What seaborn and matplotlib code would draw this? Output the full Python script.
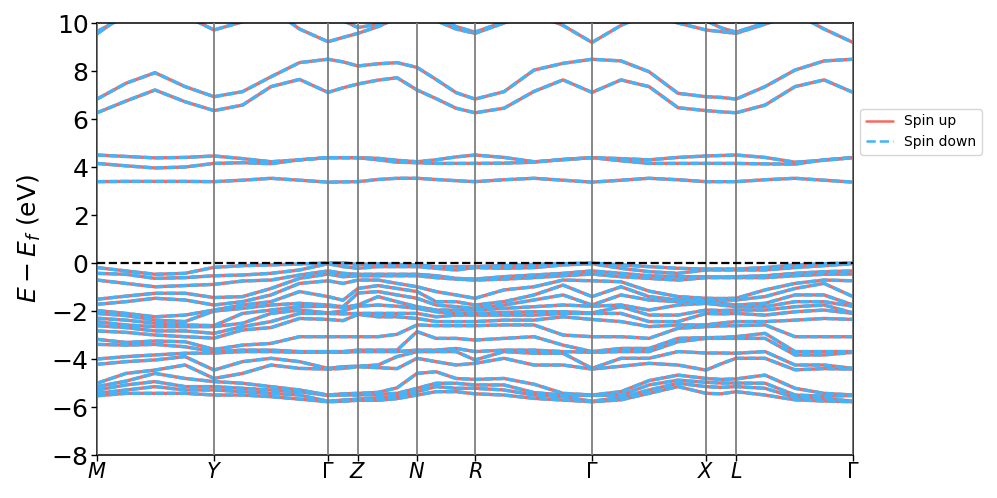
import numpy as np
import pandas as pd
import matplotlib
matplotlib.use('Agg')
import matplotlib.pyplot as plt
import seaborn as sns
from matplotlib.lines import Line2D

# k-path: high-symmetry points and sampled k-distances
kpath_labels = ['$M$', '$Y$', r'$\Gamma$', '$Z$', '$N$', '$R$', r'$\Gamma$', '$X$', '$L$', r'$\Gamma$']
kpath_ticks = [0.00, 1.17, 2.31, 2.61, 3.20, 3.78, 4.95, 6.09, 6.39, 7.56]
kpts = [0.00, 0.29, 0.58, 0.88, 1.17, 1.455, 1.74, 2.025, 2.31, 2.46, 2.61,
        2.81, 3.00, 3.20, 3.39, 3.59, 3.78, 4.07, 4.37, 4.66, 4.95,
        5.24, 5.52, 5.81, 6.09, 6.24, 6.39, 6.68, 6.98, 7.27, 7.56]

# conduction bands (eV)
c1 = [3.39, 3.40, 3.40, 3.40, 3.39, 3.45, 3.53, 3.45, 3.37, 3.38, 3.39, 3.48, 3.53, 3.53, 3.48, 3.43,
      3.39, 3.47, 3.53, 3.45, 3.37, 3.45, 3.53, 3.47, 3.39, 3.39, 3.39, 3.47, 3.53, 3.45, 3.37]
c2 = [4.15, 4.05, 3.96, 4.00, 4.15, 4.18, 4.14, 4.30, 4.39, 4.39, 4.39, 4.30, 4.20, 4.18, 4.15, 4.15,
      4.15, 4.16, 4.20, 4.32, 4.39, 4.26, 4.15, 4.15, 4.15, 4.15, 4.15, 4.13, 4.12, 4.30, 4.39]
c3 = [4.50, 4.44, 4.38, 4.40, 4.46, 4.35, 4.22, 4.30, 4.39, 4.39, 4.39, 4.36, 4.28, 4.22, 4.30, 4.42,
      4.50, 4.40, 4.22, 4.30, 4.39, 4.35, 4.30, 4.40, 4.46, 4.48, 4.50, 4.40, 4.20, 4.28, 4.39]
c4 = [6.26, 6.75, 7.21, 6.72, 6.35, 6.58, 7.35, 7.65, 7.11, 7.30, 7.46, 7.62, 7.72, 7.21, 6.85, 6.45,
      6.26, 6.45, 7.15, 7.63, 7.11, 7.63, 7.35, 6.47, 6.35, 6.30, 6.26, 6.58, 7.35, 7.63, 7.11]
c5 = [6.83, 7.49, 7.93, 7.35, 6.93, 7.14, 7.76, 8.35, 8.49, 8.38, 8.21, 8.30, 8.35, 8.15, 7.65, 7.10,
      6.83, 7.14, 8.04, 8.32, 8.49, 8.42, 7.97, 7.07, 6.93, 6.90, 6.83, 7.35, 8.04, 8.42, 8.49]
c6 = [9.64, 10.3, 10.7, 10.3, 9.71, 10.05, 10.6, 9.75, 9.22, 9.40, 9.57, 9.85, 10.2, 10.4, 10.1, 9.75,
      9.57, 10.0, 10.4, 9.90, 9.19, 9.90, 10.4, 10.0, 9.71, 9.64, 9.57, 9.95, 10.4, 9.75, 9.19]
c7 = [9.55, 10.4, 10.8, 10.8, 10.5, 10.8, 10.8, 10.5, 10.3, 10.1, 9.81, 9.95, 10.3, 10.6, 10.3, 9.85,
      9.62, 10.05, 10.8, 10.6, 10.4, 10.6, 10.7, 10.3, 10.1, 9.80, 9.62, 10.0, 10.5, 10.5, 10.4]

# valence bands (eV), sorted from top to bottom
v01 = [-0.19, -0.33, -0.47, -0.43, -0.18, -0.11, -0.08, -0.04, 0.00, 0.00, -0.06, -0.04, -0.06, -0.08, -0.15, -0.15,
       -0.15, -0.11, -0.06, -0.03, 0.00, -0.08, -0.15, -0.22, -0.25, -0.25, -0.25, -0.19, -0.08, -0.03, 0.00]
v02 = [-0.43, -0.47, -0.64, -0.61, -0.53, -0.50, -0.43, -0.29, -0.03, -0.15, -0.22, -0.15, -0.15, -0.15, -0.22, -0.29,
       -0.19, -0.22, -0.19, -0.08, -0.03, -0.22, -0.36, -0.43, -0.29, -0.29, -0.29, -0.29, -0.19, -0.11, -0.03]
v03 = [-0.71, -0.85, -0.99, -0.94, -0.89, -0.75, -0.71, -0.50, -0.33, -0.43, -0.47, -0.47, -0.47, -0.47, -0.53, -0.64,
       -0.67, -0.57, -0.50, -0.43, -0.33, -0.43, -0.53, -0.57, -0.57, -0.58, -0.57, -0.53, -0.43, -0.36, -0.33]
v04 = [-1.51, -1.38, -1.26, -1.26, -1.44, -1.40, -1.06, -0.64, -0.46, -0.57, -0.53, -0.53, -0.53, -0.53, -0.61, -0.67,
       -0.71, -0.67, -0.61, -0.53, -0.46, -0.57, -0.64, -0.71, -0.61, -0.61, -0.61, -0.61, -0.53, -0.47, -0.46]
v05 = [-1.72, -1.61, -1.47, -1.54, -1.75, -1.61, -1.33, -0.85, -0.74, -0.85, -0.71, -0.71, -0.85, -0.99, -1.19, -1.33,
       -1.47, -1.12, -0.99, -0.71, -0.74, -0.78, -1.17, -1.40, -1.47, -1.48, -1.47, -1.12, -0.85, -0.71, -0.74]
v06 = [-1.98, -2.10, -2.24, -2.17, -1.96, -1.75, -1.61, -1.19, -1.40, -1.55, -1.06, -0.94, -1.06, -1.19, -1.61, -1.61,
       -1.75, -1.61, -1.33, -0.92, -1.40, -0.99, -1.40, -1.54, -1.54, -1.55, -1.54, -1.40, -1.06, -0.85, -1.40]
v07 = [-2.10, -2.19, -2.38, -2.44, -2.00, -1.89, -1.75, -1.68, -1.75, -1.82, -1.25, -1.19, -1.33, -1.47, -1.75, -1.82,
       -1.89, -1.75, -1.54, -1.33, -1.75, -1.33, -1.54, -1.61, -1.61, -1.68, -1.75, -1.68, -1.33, -1.33, -1.75]
v08 = [-2.30, -2.38, -2.51, -2.58, -2.61, -2.10, -1.96, -1.82, -1.80, -1.85, -1.75, -1.40, -1.61, -1.82, -1.96, -1.96,
       -1.96, -1.89, -1.82, -1.75, -1.80, -1.75, -1.96, -1.75, -1.68, -1.75, -1.82, -1.82, -1.61, -1.61, -1.80]
v09 = [-2.45, -2.58, -2.65, -2.65, -2.65, -2.51, -2.10, -1.96, -2.08, -2.00, -1.80, -1.75, -1.80, -1.89, -2.03, -2.10,
       -2.10, -2.06, -2.03, -2.03, -2.08, -1.82, -2.17, -2.17, -1.96, -1.98, -1.96, -1.96, -1.82, -1.75, -2.08]
v10 = [-2.61, -2.69, -2.83, -2.83, -2.93, -2.65, -2.44, -2.10, -2.10, -2.12, -2.10, -2.10, -2.10, -2.10, -2.24, -2.17,
       -2.17, -2.17, -2.17, -2.10, -2.10, -2.10, -2.44, -2.44, -2.10, -2.12, -2.10, -2.17, -2.03, -1.96, -2.10]
v11 = [-2.83, -2.89, -3.00, -3.07, -3.13, -2.79, -2.69, -2.31, -2.35, -2.40, -2.14, -2.24, -2.24, -2.31, -2.44, -2.44,
       -2.44, -2.38, -2.38, -2.24, -2.35, -2.44, -2.65, -2.58, -2.58, -2.50, -2.44, -2.44, -2.38, -2.31, -2.35]
v12 = [-3.18, -3.31, -3.25, -3.28, -3.60, -3.42, -3.35, -3.07, -3.07, -3.07, -3.07, -3.07, -2.97, -2.58, -2.61, -2.61,
       -2.61, -2.58, -2.58, -3.00, -3.07, -3.07, -3.14, -2.72, -2.65, -2.62, -2.61, -2.58, -3.07, -3.07, -3.07]
v13 = [-3.39, -3.42, -3.39, -3.49, -3.69, -3.63, -3.63, -3.69, -3.69, -3.69, -3.63, -3.63, -3.63, -2.86, -3.14, -3.14,
       -3.21, -3.14, -3.07, -3.42, -3.69, -3.56, -3.56, -3.14, -3.11, -3.10, -3.07, -2.93, -3.69, -3.69, -3.69]
v14 = [-4.00, -3.90, -3.83, -3.76, -3.75, -3.69, -3.69, -3.72, -3.72, -3.72, -3.69, -3.69, -3.69, -3.63, -3.63, -3.56,
       -3.69, -3.63, -3.63, -3.69, -3.72, -3.69, -3.69, -3.28, -3.14, -3.14, -3.14, -3.14, -3.83, -3.83, -3.72]
v15 = [-4.22, -4.11, -4.04, -3.90, -4.46, -4.11, -3.97, -4.11, -4.39, -4.32, -4.30, -4.25, -3.90, -3.69, -3.69, -3.69,
       -4.04, -3.69, -3.76, -3.76, -4.39, -3.97, -3.97, -3.69, -3.75, -3.75, -3.76, -3.69, -4.25, -4.25, -4.39]
v16 = [-5.01, -4.60, -4.46, -4.25, -4.81, -4.60, -4.25, -4.39, -4.42, -4.39, -4.32, -4.36, -4.40, -3.97, -4.11, -4.25,
       -4.18, -3.97, -4.25, -4.25, -4.42, -4.30, -4.18, -4.25, -4.46, -4.20, -3.97, -3.97, -4.45, -4.40, -4.42]
v17 = [-5.15, -4.92, -4.60, -4.81, -4.94, -5.01, -5.15, -5.29, -5.50, -5.45, -5.43, -5.39, -5.20, -4.60, -4.53, -4.81,
       -4.85, -4.81, -5.05, -5.43, -5.50, -5.36, -4.90, -4.67, -4.81, -4.85, -4.83, -4.67, -5.22, -5.43, -5.50]
v18 = [-5.29, -5.08, -4.94, -5.15, -5.15, -5.22, -5.29, -5.36, -5.52, -5.50, -5.50, -5.47, -5.43, -5.22, -5.01, -5.01,
       -5.08, -5.08, -5.40, -5.50, -5.52, -5.50, -5.08, -4.88, -4.97, -5.00, -5.00, -5.01, -5.50, -5.55, -5.52]
v19 = [-5.43, -5.29, -5.15, -5.29, -5.29, -5.36, -5.43, -5.50, -5.76, -5.71, -5.67, -5.61, -5.55, -5.36, -5.15, -5.22,
       -5.22, -5.29, -5.50, -5.57, -5.76, -5.60, -5.29, -5.01, -5.15, -5.18, -5.15, -5.22, -5.60, -5.64, -5.76]
v20 = [-5.53, -5.43, -5.43, -5.43, -5.50, -5.50, -5.57, -5.67, -5.78, -5.76, -5.72, -5.72, -5.65, -5.50, -5.36, -5.36,
       -5.45, -5.50, -5.64, -5.71, -5.78, -5.70, -5.43, -5.15, -5.43, -5.45, -5.36, -5.50, -5.70, -5.75, -5.78]

bands = {'c1': c1, 'c2': c2, 'c3': c3, 'c4': c4, 'c5': c5, 'c6': c6, 'c7': c7,
         'v01': v01, 'v02': v02, 'v03': v03, 'v04': v04, 'v05': v05, 'v06': v06, 'v07': v07,
         'v08': v08, 'v09': v09, 'v10': v10, 'v11': v11, 'v12': v12, 'v13': v13, 'v14': v14,
         'v15': v15, 'v16': v16, 'v17': v17, 'v18': v18, 'v19': v19, 'v20': v20}
spins = ['Spin up', 'Spin down']

# long-form table: spin-up and spin-down bands coincide
rows = []
for spin in spins:
    for name, energies in bands.items():
        for k, e in zip(kpts, energies):
            rows.append((spin, name, k, e))
df = pd.DataFrame(rows, columns=['spin', 'band', 'k', 'energy'])

red = '#f7695f'
blue = '#44b3f7'

sns.set_style('ticks')
plt.rcParams['font.family'] = ['DejaVu Sans']
plt.rcParams['mathtext.fontset'] = 'dejavusans'
plt.rcParams['text.color'] = 'black'
plt.rcParams['axes.labelcolor'] = 'black'
plt.rcParams['xtick.color'] = 'black'
plt.rcParams['ytick.color'] = 'black'

fig = plt.figure(figsize=(9.97, 4.98), dpi=100)
ax = fig.add_axes([0.0973, 0.0863, 0.7583, 0.8675])

sns.lineplot(data=df, x='k', y='energy', hue='spin', style='spin', units='band',
             estimator=None, sort=False, hue_order=spins, style_order=spins,
             palette={'Spin up': red, 'Spin down': blue},
             dashes={'Spin up': '', 'Spin down': (2.6, 0.9)},
             linewidth=2.4, legend=False, ax=ax)

for kx in kpath_ticks:
    ax.axvline(kx, color='#7f7f7f', lw=1.3, zorder=3)
ax.axhline(0, color='black', ls='--', lw=1.6, zorder=4)

ax.set_xlim(kpath_ticks[0], kpath_ticks[-1])
ax.set_ylim(-8, 10)
ax.set_xticks(kpath_ticks)
ax.set_xticklabels(kpath_labels, fontsize=15)
ax.set_yticks(np.arange(-8, 11, 2))
ax.tick_params(axis='y', labelsize=18, length=4, width=1, direction='out', pad=2)
ax.tick_params(axis='x', length=4, width=1, direction='out', pad=1)
ax.set_xlabel('')
ax.set_ylabel(r'$E - E_f$ (eV)', fontsize=18, labelpad=6)
for sp in ax.spines.values():
    sp.set_visible(True)
    sp.set_color('black')
    sp.set_linewidth(1.1)

handles = [Line2D([], [], color=red, lw=1.8, label='Spin up'),
           Line2D([], [], color=blue, lw=1.8, ls='--', label='Spin down')]
ax.legend(handles=handles, loc='center left', bbox_to_anchor=(1.0, 0.748),
          fontsize=10, frameon=True, fancybox=True, edgecolor='#cccccc')

fig.savefig('out.png', dpi=100)
